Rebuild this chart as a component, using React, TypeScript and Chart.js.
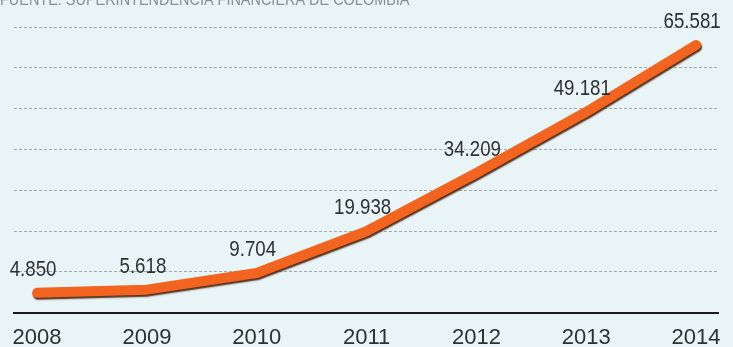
import React, { useEffect, useRef } from "react";
import { Chart, registerables } from "chart.js";

Chart.register(...registerables);

const years = [2008, 2009, 2010, 2011, 2012, 2013, 2014];
const values = [4850, 5618, 9704, 19938, 34209, 49181, 65581];
const valueLabels = ["4.850", "5.618", "9.704", "19.938", "34.209", "49.181", "65.581"];
const yMin = 0;
const yMax = 70000;
const yStep = 10000;
const sourceText = "FUENTE: SUPERINTENDENCIA FINANCIERA DE COLOMBIA";

const FONT = "'Liberation Sans', Arial, sans-serif";
const BG = "#e9f4f6";
const LINE = "#f2641f";
const TEXT = "#2e3133";
const SQUEEZE = 0.85;

const bgPlugin = {
  id: "bgPlugin",
  beforeDraw(chart: any) {
    const { ctx, width, height } = chart;
    ctx.save();
    ctx.fillStyle = BG;
    ctx.fillRect(0, 0, width, height);
    ctx.fillStyle = "#8a8f91";
    ctx.font = `17px ${FONT}`;
    ctx.textAlign = "left";
    ctx.textBaseline = "alphabetic";
    ctx.scale(SQUEEZE, 1);
    ctx.fillText(sourceText, 0, 5);
    ctx.restore();
  },
};

const shadowPlugin = {
  id: "shadowPlugin",
  beforeDatasetDraw(chart: any) {
    const ctx = chart.ctx;
    ctx.save();
    ctx.shadowColor = "rgba(70,25,5,0.9)";
    ctx.shadowOffsetX = 1;
    ctx.shadowOffsetY = 2;
    ctx.shadowBlur = 1.5;
  },
  afterDatasetDraw(chart: any) {
    chart.ctx.restore();
  },
};

const labelPlugin = {
  id: "labelPlugin",
  afterDatasetsDraw(chart: any) {
    const { ctx } = chart;
    const meta = chart.getDatasetMeta(0);
    ctx.save();
    ctx.fillStyle = TEXT;
    ctx.font = `22px ${FONT}`;
    ctx.textAlign = "center";
    ctx.textBaseline = "alphabetic";
    ctx.scale(SQUEEZE, 1);
    meta.data.forEach((pt: any, i: number) => {
      ctx.fillText(valueLabels[i], (pt.x - 4) / SQUEEZE, pt.y - 17);
    });
    ctx.restore();
  },
};

export default function App() {
  const ref = useRef<HTMLCanvasElement | null>(null);

  useEffect(() => {
    if (!ref.current) return;
    const chart = new Chart(ref.current, {
      type: "line",
      data: {
        datasets: [
          {
            data: years.map((y, i) => ({ x: y, y: values[i] })),
            borderColor: LINE,
            borderWidth: 10,
            borderCapStyle: "round",
            borderJoinStyle: "round",
            pointRadius: 0,
            tension: 0,
            fill: false,
          },
        ],
      },
      options: {
        responsive: false,
        animation: false,
        events: [],
        layout: { padding: { left: 14, right: 14, top: 27, bottom: -16 } },
        plugins: {
          legend: { display: false },
          tooltip: { enabled: false },
          title: { display: false },
        },
        scales: {
          x: {
            type: "linear",
            min: 2007.79,
            max: 2014.2,
            grid: { display: false, drawTicks: false },
            border: { display: true, color: "#1c1c1c", width: 2 },
            ticks: {
              stepSize: 1,
              includeBounds: false,
              autoSkip: false,
              maxRotation: 0,
              padding: 12,
              color: TEXT,
              font: { family: FONT, size: 22 },
              callback: (v: any) => String(v),
            },
          },
          y: {
            min: yMin,
            max: yMax,
            ticks: { display: false, stepSize: yStep },
            border: { display: false, dash: [3, 2] },
            grid: {
              drawTicks: false,
              lineWidth: 1,
              color: (c: any) => (c.tick && c.tick.value === 0 ? "rgba(0,0,0,0)" : "#a3abae"),
            },
          },
        },
      },
      plugins: [bgPlugin, shadowPlugin, labelPlugin],
    });
    return () => chart.destroy();
  }, []);

  return (
    <div style={{ position: "fixed", left: 0, top: 0, width: 733, height: 347 }}>
      <canvas ref={ref} width={733} height={347} style={{ display: "block", width: 733, height: 347 }} />
    </div>
  );
}
